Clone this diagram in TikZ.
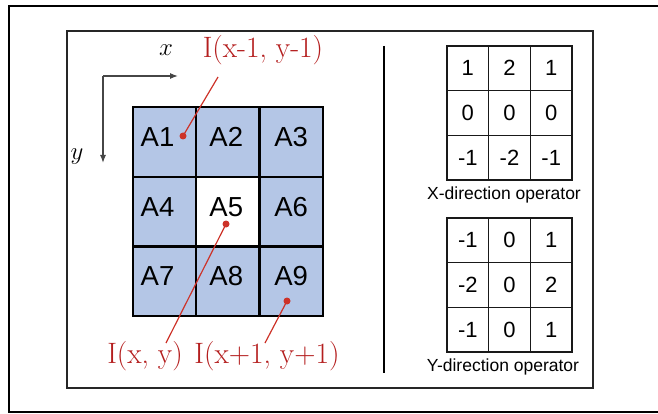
\documentclass[tikz,border=0pt]{standalone}
\usepackage{fontspec}
\setsansfont{Liberation Sans}
\usepackage{xcolor}
\usetikzlibrary{arrows.meta}
\definecolor{gridblue}{RGB}{180,198,230}
\definecolor{markred}{RGB}{205,50,40}
\definecolor{labelred}{RGB}{180,30,30}
\definecolor{axisgray}{RGB}{70,70,70}

\begin{document}
\begin{tikzpicture}[x=1pt,y=-1pt,
    cell/.style={rectangle, draw=black, line width=2.2pt, minimum width=63.3pt, minimum height=69.7pt, inner sep=0pt},
    celltext/.style={font=\sffamily\fontsize{27.5}{32}\selectfont, inner sep=0pt},
    opcell/.style={rectangle, draw=black!90, line width=1.4pt, minimum width=41.7pt, minimum height=44.7pt, inner sep=0pt, font=\sffamily\fontsize{22}{26}\selectfont},
    opname/.style={font=\sffamily\fontsize{17.5}{21}\selectfont, inner sep=0pt},
    pixlabel/.style={text=labelred, font=\fontsize{29.5}{34}\selectfont, inner sep=0pt},
    axislabel/.style={font=\fontsize{28}{32}\selectfont, inner sep=0pt},
    pointer/.style={draw=markred, line width=1.2pt},
    dot/.style={fill=markred}]
    \useasboundingbox (0,0) rectangle (658,414);

    % frames
    \draw[line width=2.4pt] (658,6) -- (9,6) -- (9,412) -- (658,412);
    \draw[draw=black!85, line width=1.4pt] (67,31) rectangle (593,388);
    \draw[line width=2pt] (384,46) -- (384,373);

    % image grid
    \foreach \n/\c/\r/\col/\dx in {1/0/0/gridblue/-7, 2/1/0/gridblue/-1.5, 3/2/0/gridblue/0,
                                   4/0/1/gridblue/-7, 5/1/1/white/-1.5, 6/2/1/gridblue/0,
                                   7/0/2/gridblue/-7, 8/1/2/gridblue/-1.5, 9/2/2/gridblue/0} {
        \node[cell, fill=\col] (a\n) at (164.5+63.3*\c, 142+69.7*\r) {};
        \node[celltext] (t\n) at ([xshift=\dx pt, yshift=5pt]a\n.center) {A\n};
    }

    % axes
    \coordinate (origin) at (103,76);
    \node[axislabel] (xlab) at (166,50) {$x$};
    \node[axislabel] (ylab) at (77,157) {$y$};
    \draw[axisgray, line width=1.3pt, -{Latex[length=8pt,width=6pt]}] (origin) -- (178,76);
    \draw[axisgray, line width=1.3pt, -{Latex[length=8pt,width=6pt]}] (origin) -- (103,163);

    % pixel labels
    \coordinate (p1) at (183,136);
    \coordinate (p5) at (226,224);
    \coordinate (p9) at (287,301);
    \node[pixlabel] (i1) at (263,50) {I(x-1, y-1)};
    \node[pixlabel] (i5) at (145,356) {I(x, y)};
    \node[pixlabel] (i9) at (267,356) {I(x+1, y+1)};
    \draw[pointer] (p1) -- (218,77);
    \draw[pointer] (p5) -- (166,343);
    \draw[pointer] (p9) -- (265,343);
    \foreach \p in {p1,p5,p9}
        \fill[dot] (\p) circle (3.5pt);

    % X-direction operator
    \foreach \v [count=\k from 0] in {1,2,1,0,0,0,-1,-2,-1} {
        \pgfmathtruncatemacro\c{mod(\k,3)}
        \pgfmathtruncatemacro\r{div(\k,3)}
        \node[opcell] (gx\k) at (467.8+41.7*\c, 68.3+44.7*\r) {\v};
    }
    \node[opname] (gxname) at (504,195) {X-direction operator};

    % Y-direction operator
    \foreach \v [count=\k from 0] in {-1,0,1,-2,0,2,-1,0,1} {
        \pgfmathtruncatemacro\c{mod(\k,3)}
        \pgfmathtruncatemacro\r{div(\k,3)}
        \node[opcell] (gy\k) at (467.8+41.7*\c, 240.3+44.7*\r) {\v};
    }
    \node[opname] (gyname) at (503,367) {Y-direction operator};
\end{tikzpicture}
\end{document}
